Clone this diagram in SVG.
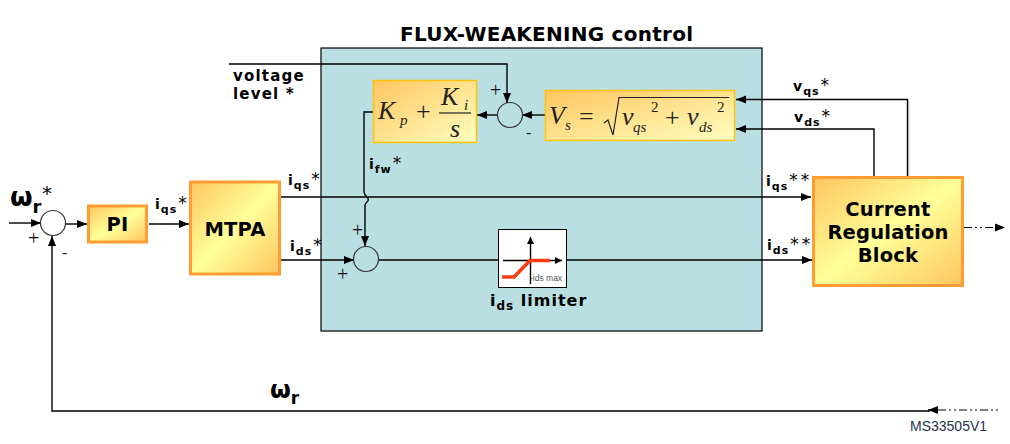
<svg xmlns="http://www.w3.org/2000/svg" width="1010" height="444" viewBox="0 0 1010 444">
<style>
.w{fill:none;stroke:#000;stroke-width:1.4}
.d{stroke-dasharray:8 3 2 3 2 3;stroke-width:1.1}
.c{fill:none;stroke:#333;stroke-width:1.2}
.o{stroke:#ff9c33;stroke-width:3}
.y{stroke:#ffc20e;stroke-width:1.5}
text{font-family:"DejaVu Sans",Verdana,sans-serif;font-weight:bold;fill:#000}
.l{font-size:14px}
.s{font-size:11px;letter-spacing:1px}
.t{font-size:17px;font-weight:normal}
.b{font-size:19.500px;letter-spacing:.2px}
.m{font-family:"Liberation Serif",serif;font-weight:normal;font-style:italic;fill:#222}
.n{font-family:"Liberation Serif",serif;font-weight:normal;fill:#222}
.v{font-size:26px}
.u{font-size:15px}
.g{font-family:"Liberation Serif",serif;font-weight:normal;font-size:20px;fill:#111}
</style>
<defs>
<linearGradient id="g1" x1="0" y1="0" x2="1" y2="1"><stop offset="0" stop-color="#ffc55f"/><stop offset=".5" stop-color="#ffff99"/><stop offset="1" stop-color="#ffc55f"/></linearGradient>
<linearGradient id="g2" x1="0" y1="0" x2="1" y2="1"><stop offset="0" stop-color="#ffc55f"/><stop offset="1" stop-color="#ffffc0"/></linearGradient>
<marker id="a" markerUnits="userSpaceOnUse" markerWidth="12" markerHeight="12" refX="10" refY="6" orient="auto"><path d="M0,2 L10,6 L0,10 Z" fill="#000"/></marker>
<marker id="e" markerUnits="userSpaceOnUse" markerWidth="8" markerHeight="8" refX="7" refY="4" orient="auto"><path d="M0,.5 L7,4 L0,7.500 Z" fill="#000"/></marker>
</defs>
<rect id="panel" x="321" y="48" width="441" height="283" fill="#b9dfe3" stroke="#000" stroke-width="1.2"/>
<text x="400" y="41" style="font-size:20px" textLength="293">FLUX-WEAKENING control</text>
<g id="connectors">
<path class="w" marker-end="url(#a)" d="M9,223 H41"/>
<path class="w" marker-end="url(#a)" d="M66,224 H87"/>
<path class="w" marker-end="url(#a)" d="M149,224 H189"/>
<path class="w" marker-end="url(#a)" d="M281,197 H811"/>
<path class="w" marker-end="url(#a)" d="M281,260 H354"/>
<path class="w" d="M379,260 H498"/>
<path class="w" marker-end="url(#a)" d="M566,260 H812"/>
<path class="w" marker-end="url(#a)" d="M229,64 H507 V103"/>
<path class="w" marker-end="url(#a)" d="M545,115 H522"/>
<path class="w" marker-end="url(#a)" d="M497,115 H477"/>
<path class="w" marker-end="url(#a)" d="M373,112 H364 V192 Q364,194 367,197 Q370,200 366,203 Q365,204 365,206 V246"/>
<path fill="none" stroke="#ccc" stroke-width="1" d="M909,100 V177"/>
<path class="w" marker-end="url(#a)" d="M907.500,177 V99.500 H736"/>
<path class="w" marker-end="url(#a)" d="M874,177 V129 H736"/>
<path class="w d" marker-end="url(#a)" d="M964,227.500 H1005"/>
<path class="w" marker-end="url(#a)" d="M930,411 H52 V236"/>
<path class="w" marker-end="url(#a)" d="M938,410 H928"/>
<path class="w d" d="M938,410 H998"/>
</g>
<g id="sum1"><circle class="c" cx="53" cy="223" r="12.500" fill="#fff"/><text class="g" x="28" y="244.500">+</text><text class="n" x="62" y="258" style="font-size:16px">-</text></g>
<g id="sum2"><circle class="c" cx="510" cy="115" r="12.500"/><text class="g" x="490" y="96.500">+</text><text class="n" x="526" y="137.500" style="font-size:16px">-</text></g>
<g id="sum3"><circle class="c" cx="366" cy="259" r="12.500"/><text class="g" x="352" y="236.500">+</text><text class="g" x="337" y="280.500">+</text></g>
<g id="pi"><rect class="o" x="88.500" y="206" width="58" height="36" fill="url(#g1)"/><text class="b" x="117.500" y="231" text-anchor="middle">PI</text></g>
<g id="mtpa"><rect class="o" x="190.500" y="182" width="89" height="92" fill="url(#g1)"/><text class="b" x="235" y="236" text-anchor="middle">MTPA</text></g>
<g id="crb"><rect class="o" x="813.500" y="177.500" width="149" height="108" fill="url(#g1)"/>
<text class="b" x="888" y="216" text-anchor="middle">Current</text><text class="b" x="888" y="239" text-anchor="middle">Regulation</text><text class="b" x="888" y="262" text-anchor="middle">Block</text></g>
<g id="pi-formula"><rect class="y" x="373.500" y="80.500" width="103" height="62" fill="url(#g2)"/>
<text class="m v" x="378" y="119">K</text><text class="m u" x="400" y="125">p</text>
<text class="n v" x="416" y="120">+</text>
<text class="m v" x="441" y="105">K</text><text class="m u" x="464" y="110">i</text>
<path d="M439,113 H471" stroke="#222" stroke-width="1.2"/>
<text class="m v" x="450" y="137">s</text></g>
<g id="vs-formula"><rect class="y" x="545.500" y="90.500" width="189" height="50" fill="url(#g2)"/>
<text class="m v" x="549" y="124">V</text><text class="m u" x="565" y="130">s</text>
<text class="n v" x="579" y="125">=</text>
<path d="M604,123 L608,120 L613,135 L619,97.500 H729" fill="none" stroke="#222" stroke-width="1.2"/>
<text class="m v" x="622" y="125">v</text><text class="m u" x="633" y="132">qs</text>
<text class="n u" x="651" y="112">2</text>
<text class="n v" x="665" y="126">+</text>
<text class="m v" x="687" y="125">v</text><text class="m u" x="699" y="132">ds</text>
<text class="n u" x="717" y="112">2</text></g>
<g id="limiter"><rect x="498.500" y="229.500" width="68" height="58" fill="#fff" stroke="#000" stroke-width="1"/>
<path class="w" marker-end="url(#e)" d="M530.500,284 V237"/>
<path class="w" marker-end="url(#e)" d="M503,260.500 H562"/>
<path d="M502,277 H514 L530,260.500 H550" fill="none" stroke="#ff3c10" stroke-width="3.500"/>
<text x="530" y="281" style="font-family:'Liberation Sans',sans-serif;font-weight:normal;font-size:8.500px;fill:#555">-ids max</text></g>
<g id="labels">
<text x="233" y="81" style="font-size:15px;letter-spacing:1.200px">voltage</text><text x="233" y="99" style="font-size:15px;letter-spacing:1.200px">level *</text>
<text x="10" y="206" style="font-size:26px">ω<tspan dy="7" style="font-size:18px">r</tspan></text><text x="42" y="200" class="t" style="font-size:20px">*</text>
<text x="155" y="209" class="l">i<tspan class="s" dy="4" dx="1">qs</tspan><tspan class="t" dy="-4" dx="1">*</tspan></text>
<text x="288" y="185" class="l">i<tspan class="s" dy="4" dx="1">qs</tspan><tspan class="t" dy="-4" dx="1">*</tspan></text>
<text x="290" y="251" class="l">i<tspan class="s" dy="4" dx="1">ds</tspan><tspan class="t" dy="-4" dx="1">*</tspan></text>
<text x="369" y="169" class="l">i<tspan class="s" dy="4" dx="1">fw</tspan><tspan class="t" dy="-4" dx="1">*</tspan></text>
<text x="490" y="306" style="font-size:16px;letter-spacing:1px">i<tspan dy="4" style="font-size:12px">ds</tspan><tspan dy="-4"> limiter</tspan></text>
<text x="793" y="91" class="l">v<tspan class="s" dy="4" dx="1">qs</tspan><tspan class="t" dy="-4" dx="1">*</tspan></text>
<text x="794" y="122" class="l">v<tspan class="s" dy="4" dx="1">ds</tspan><tspan class="t" dy="-4" dx="1">*</tspan></text>
<text x="766" y="186" class="l">i<tspan class="s" dy="4" dx="1">qs</tspan><tspan class="t" dy="-4" dx="1" style="letter-spacing:3px">**</tspan></text>
<text x="767" y="250" class="l">i<tspan class="s" dy="4" dx="1">ds</tspan><tspan class="t" dy="-4" dx="1" style="letter-spacing:3px">**</tspan></text>
<text x="270" y="398" style="font-size:24px">ω<tspan dy="6" style="font-size:17px">r</tspan></text>
<text x="910" y="431" style="font-family:'Liberation Sans',sans-serif;font-weight:normal;font-size:14px;fill:#1f3350">MS33505V1</text>
</g>
</svg>
